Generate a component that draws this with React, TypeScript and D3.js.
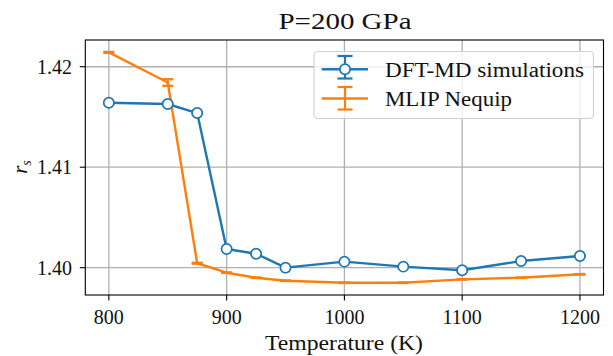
import React from "react";
import * as d3 from "d3";

const temps = [800, 850, 875, 900, 925, 950, 1000, 1050, 1100, 1150, 1200];
const dftValues = [1.41642, 1.41629, 1.41539, 1.40186, 1.40139, 1.4, 1.4006, 1.4001, 1.39974, 1.40066, 1.40116];
const dftErrors = [0.0001, 0.0001, 0.0001, 0.0001, 0.0001, 0.0001, 0.0001, 0.0001, 0.0001, 0.0001, 0.0001];
const mlipValues = [1.42143, 1.41843, 1.40044, 1.3995, 1.399, 1.3987, 1.3985, 1.3985, 1.39884, 1.399, 1.39934];
const mlipErrors = [0.00005, 0.00033, 0.00005, 0.00003, 0.00003, 0.00003, 0.00003, 0.00003, 0.00003, 0.00003, 0.00003];
const xTicks = [800, 900, 1000, 1100, 1200];
const yTicks = [1.4, 1.41, 1.42];
const titleText = "P=200 GPa";
const xLabel = "Temperature (K)";
const legendLabels = ["DFT-MD simulations", "MLIP Nequip"];

const W = 613;
const H = 356;
const BLUE = "#1f77b4";
const ORANGE = "#ff7f0e";
const FONT = "Liberation Serif, Times New Roman, serif";
const tStyle: React.CSSProperties = { fontFamily: FONT };

export default function App() {
  const x = d3.scaleLinear().domain([780, 1220]).range([85.3, 603.5]);
  const y = d3.scaleLinear().domain([1.39728, 1.42266]).range([295, 40]);
  const [x0, x1] = x.range();
  const [y0, y1] = y.range();

  const line = d3
    .line<number>()
    .x((_, i) => x(temps[i]))
    .y((v) => y(v));

  const cap = 5.5;
  const errBars = (vals: number[], errs: number[], color: string) =>
    vals.map((v, i) => {
      const cx = x(temps[i]);
      const ya = y(v + errs[i]);
      const yb = y(v - errs[i]);
      return (
        <g key={i} stroke={color} strokeWidth={2.2}>
          <line x1={cx} x2={cx} y1={ya} y2={yb} />
          <line x1={cx - cap} x2={cx + cap} y1={ya} y2={ya} />
          <line x1={cx - cap} x2={cx + cap} y1={yb} y2={yb} />
        </g>
      );
    });

  const lgX = 314;
  const lgY = 51.5;
  const lgW = 279.5;
  const lgH = 67;

  return (
    <svg
      width={W}
      height={H}
      style={{ position: "absolute", left: 0, top: 0, background: "#fff" }}
    >
      <rect x={0} y={0} width={W} height={H} fill="#fff" />
      <g stroke="#b0b0b0" strokeWidth={1.3}>
        {xTicks.map((t) => (
          <line key={"gx" + t} x1={x(t)} x2={x(t)} y1={y1} y2={y0} />
        ))}
        {yTicks.map((t) => (
          <line key={"gy" + t} x1={x0} x2={x1} y1={y(t)} y2={y(t)} />
        ))}
      </g>

      <path d={line(mlipValues) || ""} fill="none" stroke={ORANGE} strokeWidth={2.4} strokeLinejoin="round" />
      {errBars(mlipValues, mlipErrors, ORANGE)}

      <path d={line(dftValues) || ""} fill="none" stroke={BLUE} strokeWidth={2.4} strokeLinejoin="round" />
      {errBars(dftValues, dftErrors, BLUE)}
      {dftValues.map((v, i) => (
        <circle key={i} cx={x(temps[i])} cy={y(v)} r={5.1} fill="#fff" stroke={BLUE} strokeWidth={1.7} />
      ))}

      <rect x={x0} y={y1} width={x1 - x0} height={y0 - y1} fill="none" stroke="#000" strokeWidth={1.1} />

      <g stroke="#000" strokeWidth={1.1}>
        {xTicks.map((t) => (
          <line key={"tx" + t} x1={x(t)} x2={x(t)} y1={y0} y2={y0 + 5.5} />
        ))}
        {yTicks.map((t) => (
          <line key={"ty" + t} x1={x0} x2={x0 - 5.5} y1={y(t)} y2={y(t)} />
        ))}
      </g>
      <g fontSize={20} fill="#111">
        {xTicks.map((t) => (
          <text key={"lx" + t} style={tStyle} x={x(t)} y={324} textAnchor="middle">
            {String(t)}
          </text>
        ))}
        {yTicks.map((t) => (
          <text key={"ly" + t} style={tStyle} x={72} y={y(t) + 7} textAnchor="end">
            {d3.format(".2f")(t)}
          </text>
        ))}
      </g>

      <text style={tStyle} x={345} y={28.5} fontSize={24} textAnchor="middle" textLength={133} lengthAdjust="spacingAndGlyphs" fill="#111">
        {titleText}
      </text>
      <text style={tStyle} x={344} y={350} fontSize={20} textAnchor="middle" textLength={158} lengthAdjust="spacingAndGlyphs" fill="#111">
        {xLabel}
      </text>
      <text style={tStyle} transform="translate(27,167) rotate(-90)" fontSize={21} textAnchor="middle" fontStyle="italic" fill="#111">
        r<tspan fontSize={14} dy={4}>s</tspan>
      </text>

      <rect x={lgX} y={lgY} width={lgW} height={lgH} rx={4} fill="#fff" fillOpacity={0.8} stroke="#d0d0d0" strokeWidth={1.1} />
      <g>
        <line x1={321.7} x2={368} y1={69.3} y2={69.3} stroke={BLUE} strokeWidth={2.4} />
        <line x1={345} x2={345} y1={56} y2={78.5} stroke={BLUE} strokeWidth={2.2} />
        <line x1={337.5} x2={352.5} y1={56} y2={56} stroke={BLUE} strokeWidth={2.2} />
        <line x1={337.5} x2={352.5} y1={78.5} y2={78.5} stroke={BLUE} strokeWidth={2.2} />
        <circle cx={345} cy={69.3} r={5.1} fill="#fff" stroke={BLUE} strokeWidth={1.7} />
        <text style={tStyle} x={385} y={76.5} fontSize={20} textLength={199} lengthAdjust="spacingAndGlyphs" fill="#111">
          {legendLabels[0]}
        </text>
      </g>
      <g>
        <line x1={321.7} x2={368} y1={98.5} y2={98.5} stroke={ORANGE} strokeWidth={2.4} />
        <line x1={345} x2={345} y1={87} y2={109.5} stroke={ORANGE} strokeWidth={2.2} />
        <line x1={337.5} x2={352.5} y1={87} y2={87} stroke={ORANGE} strokeWidth={2.2} />
        <line x1={337.5} x2={352.5} y1={109.5} y2={109.5} stroke={ORANGE} strokeWidth={2.2} />
        <text style={tStyle} x={385} y={105.5} fontSize={20} textLength={127} lengthAdjust="spacingAndGlyphs" fill="#111">
          {legendLabels[1]}
        </text>
      </g>
    </svg>
  );
}
